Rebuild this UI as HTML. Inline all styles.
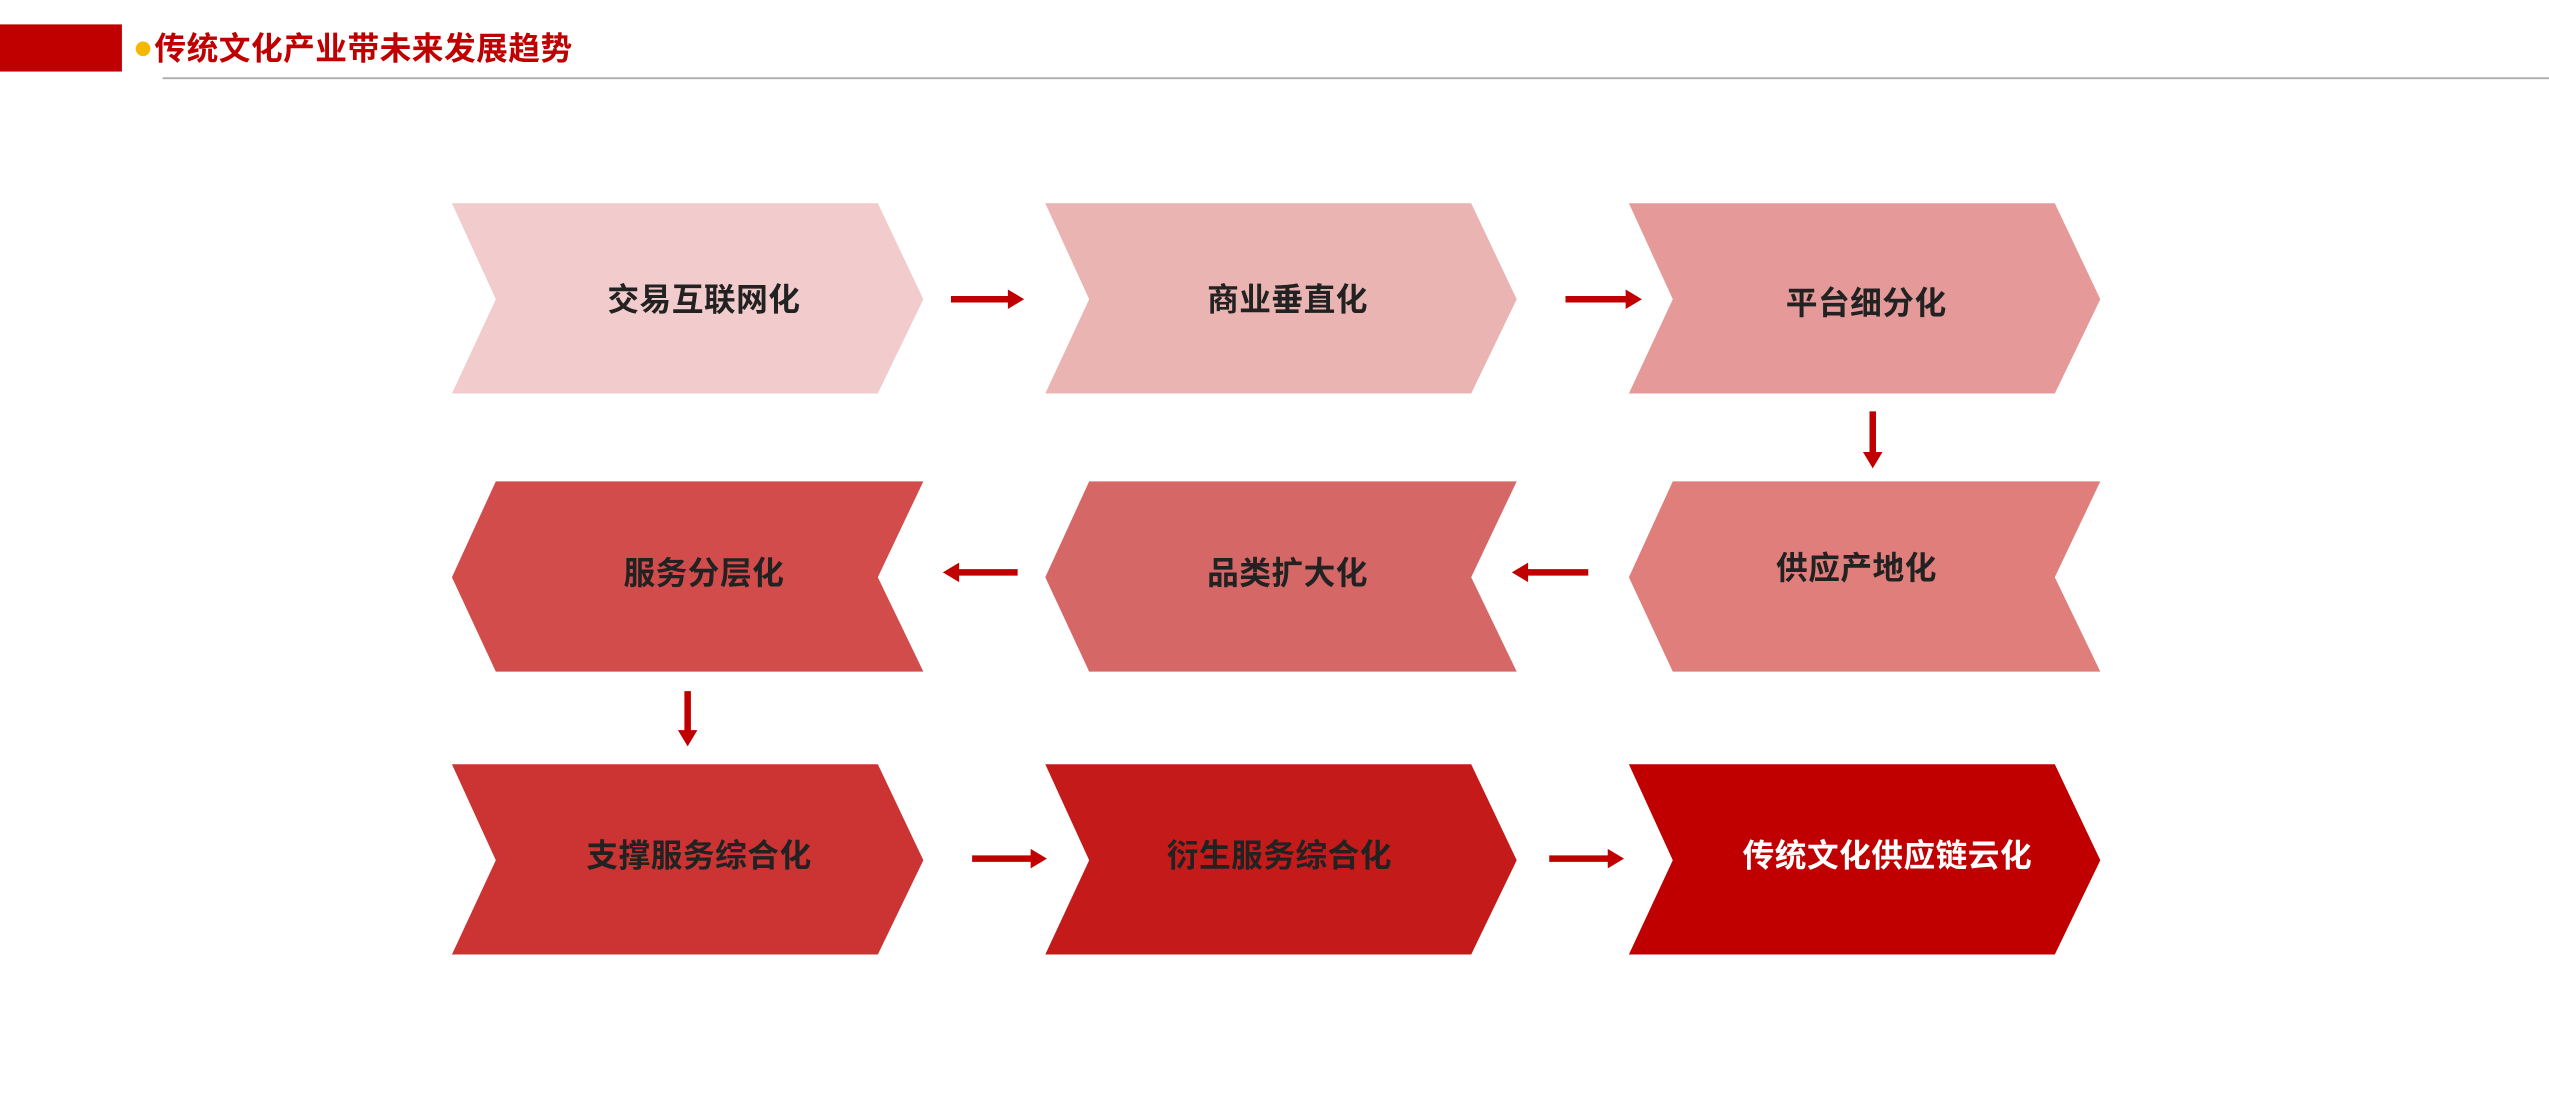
<!DOCTYPE html>
<html><head><meta charset="utf-8"><style>
html,body{margin:0;padding:0;background:#fff;}
svg{display:block;}
text{font-family:"Liberation Sans","Noto Sans CJK SC",sans-serif;font-weight:bold;}
</style></head><body>
<svg width="2549" height="1109" viewBox="0 0 1568 682" preserveAspectRatio="none" xmlns="http://www.w3.org/2000/svg">
<rect x="0" y="15" width="75" height="29" fill="#c00000"/>
<circle cx="88" cy="30" r="4.5" fill="#f5b800"/>
<text x="95" y="36.5" font-size="19.5" fill="#c00000" letter-spacing="0.3">传统文化产业带未来发展趋势</text>
<rect x="100" y="47.5" width="1468" height="1.2" fill="#b0b0b0"/>
<g>
<polygon points="278,125 540,125 568,184 540,242 278,242 305,184" fill="#f2cccc"/>
<polygon points="643,125 905,125 933,184 905,242 643,242 670,184" fill="#eab4b2"/>
<polygon points="1002,125 1264,125 1292,184 1264,242 1002,242 1029,184" fill="#e59a99"/>
<polygon points="305,296 568,296 540,355 568,413 305,413 278,355" fill="#d34c4c"/>
<polygon points="670,296 933,296 905,355 933,413 670,413 643,355" fill="#d56866"/>
<polygon points="1029,296 1292,296 1264,355 1292,413 1029,413 1002,355" fill="#e07e7c"/>
<polygon points="278,470 540,470 568,529 540,587 278,587 305,529" fill="#cc3333"/>
<polygon points="643,470 905,470 933,529 905,587 643,587 670,529" fill="#c41a1a"/>
<polygon points="1002,470 1264,470 1292,529 1264,587 1002,587 1029,529" fill="#c00000"/>
</g>
<g font-size="19.5" fill="#222" text-anchor="middle" letter-spacing="0.3">
<text x="433" y="191">交易互联网化</text>
<text x="792" y="191">商业垂直化</text>
<text x="1148" y="193">平台细分化</text>
<text x="433" y="359">服务分层化</text>
<text x="792" y="359">品类扩大化</text>
<text x="1142" y="356">供应产地化</text>
<text x="430" y="533">支撑服务综合化</text>
<text x="787" y="533">衍生服务综合化</text>
<text x="1161" y="533" fill="#fff">传统文化供应链云化</text>
</g>
<g fill="#c00000">
<polygon points="585,182 620,182 620,178 630,184 620,190 620,186 585,186"/>
<polygon points="963,182 1000,182 1000,178 1010,184 1000,190 1000,186 963,186"/>
<polygon points="1150,253 1154,253 1154,278 1158,278 1152,288 1146,278 1150,278"/>
<polygon points="626,350 590,350 590,346 580,352 590,358 590,354 626,354"/>
<polygon points="977,350 940,350 940,346 930,352 940,358 940,354 977,354"/>
<polygon points="421,425 425,425 425,449 429,449 423,459 417,449 421,449"/>
<polygon points="598,526 634,526 634,522 644,528 634,534 634,530 598,530"/>
<polygon points="953,526 989,526 989,522 999,528 989,534 989,530 953,530"/>
</g>
</svg>
</body></html>
